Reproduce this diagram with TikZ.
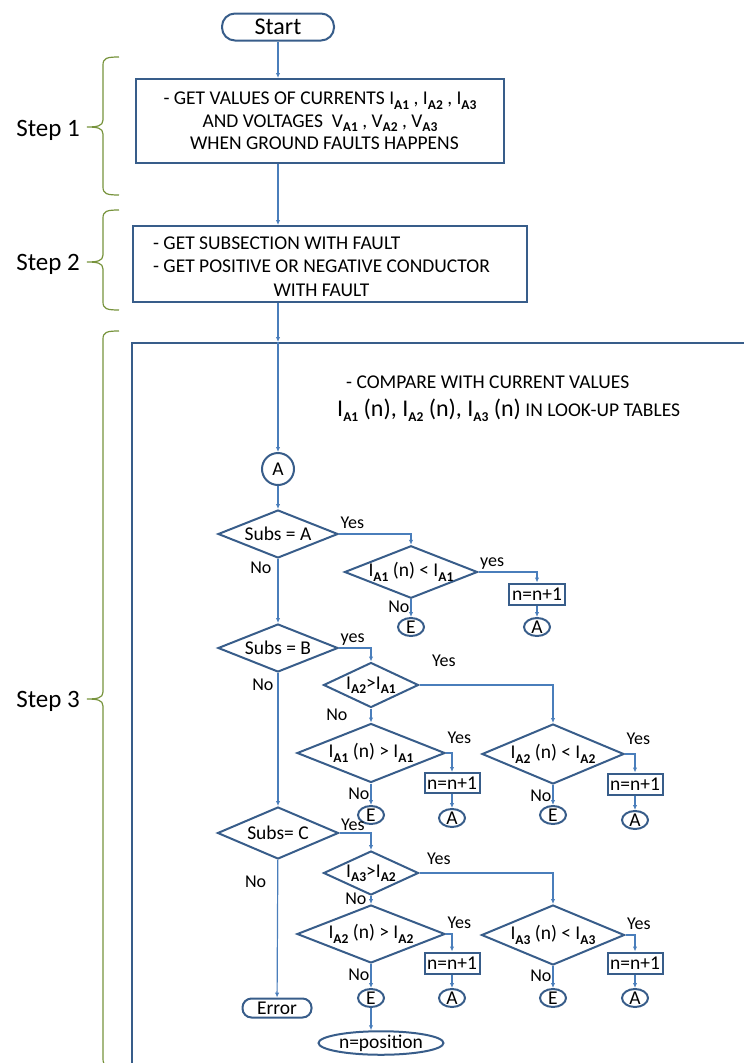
\documentclass[tikz,border=0pt]{standalone}
\usepackage{fontspec}
\setmainfont{Carlito}
\usetikzlibrary{arrows.meta,positioning,shapes.geometric}
\definecolor{shapeblue}{RGB}{56,93,138}
\definecolor{linkblue}{RGB}{74,126,187}
\definecolor{braceolive}{RGB}{119,147,60}
\newcommand{\ia}[1]{I\raisebox{-.22em}{\fontsize{13.5}{13.5}\selectfont\bfseries A#1}}
\newcommand{\va}[1]{V\raisebox{-.22em}{\fontsize{13.5}{13.5}\selectfont\bfseries A#1}}
\newcommand{\stepbrace}[3]{%
  \draw[brc] (119,#1) .. controls (107,#1) and (103,#1+1) .. (103,#1+8)
    -- (103,#2-7) .. controls (103,#2-1) and (97,#2) .. (87,#2)
    .. controls (97,#2) and (103,#2+1) .. (103,#2+7)
    -- (103,#3-8) .. controls (103,#3-1) and (107,#3) .. (119,#3);}

\begin{document}
\begin{tikzpicture}[x=1pt,y=-1pt,>={Latex[length=5pt,width=4.5pt]},
  font=\fontsize{19.5}{22.5}\selectfont,
  blk/.style={draw=shapeblue,line width=2pt,inner sep=0pt},
  dec/.style={blk,diamond,aspect=2.5},
  conn/.style={blk,ellipse,minimum width=26pt,minimum height=18pt},
  upd/.style={blk,minimum width=56pt,minimum height=21pt},
  flow/.style={->,draw=linkblue,line width=1.2pt},
  lbl/.style={font=\fontsize{18}{18}\selectfont,inner sep=1pt,text height=12pt,text depth=4pt},
  yes/.style={lbl,pos=0,anchor=south west},
  brc/.style={draw=braceolive,line width=1.2pt},
  steptext/.style={font=\fontsize{25}{25}\selectfont,inner sep=0pt,anchor=east}]
  \useasboundingbox (0,0) rectangle (744,1063);
  \clip (0,0) rectangle (744,1063);
  \stepbrace{57}{127}{195}
  \stepbrace{210}{262}{310}
  \stepbrace{331}{699}{1067}
  \node[steptext] (s1) at (80,130) {Step 1};
  \node[steptext] (s2) at (80,264) {Step 2};
  \node[steptext] (s3) at (80,701) {Step 3};
  \node[blk,anchor=north west,minimum width=700pt,minimum height=800pt] (sbox) at (131,342) {};
  \node[blk,rounded corners=13pt,minimum width=112pt,minimum height=27pt,font=\fontsize{24}{24}\selectfont] (start) at (278,27) {Start};
  \node[blk,minimum width=368pt,minimum height=84pt,align=center] (box1) at (320,121) {- GET VALUES OF CURRENTS \ia1 , \ia2 , \ia3\\
  AND VOLTAGES\ \ \va1 , \va2 , \va3\\
  \ \ WHEN GROUND FAULTS HAPPENS};
  \node[blk,minimum width=394pt,minimum height=76pt,font=\fontsize{19.5}{23.5}\selectfont] (box2) at (330,264) {\raisebox{-4pt}[\height][\depth]{\begin{tabular}{@{}l@{}}- GET SUBSECTION WITH FAULT\\
  - GET POSITIVE OR NEGATIVE CONDUCTOR\\
  \multicolumn{1}{@{}c@{}}{WITH FAULT}\end{tabular}}\hspace*{17pt}};
  \coordinate (in3) at (sbox.north -| start);
  \node[anchor=north west,align=left,inner sep=0pt] (cmp) at (337,376) {\hspace*{9pt}- COMPARE WITH CURRENT VALUES\\[5pt]
  {\fontsize{24}{26}\selectfont\ia1 (n), \ia2 (n), \ia3 (n)} IN LOOK-UP TABLES};
  \node[blk,circle,minimum size=32pt] (a0) at (278,469) {A};
  \node[dec,minimum width=120pt,minimum height=48pt] (d1) at (278,534) {Subs = A};
  \node[dec,minimum width=133pt,minimum height=51pt] (d2) at (411,572) {\ia1 (n) < \ia1};
  \node[conn] (e1) at (411,627) {E};
  \node[upd] (p1) at (537,594) {n=n+1};
  \node[conn] (a1) at (537,627) {A};
  \node[dec,minimum width=120pt,minimum height=48pt] (d4) at (278,648) {Subs = B};
  \node[dec,minimum width=95pt,minimum height=45pt] (d5) at (371,685) {\ia2>\ia1};
  \node[dec,minimum width=148pt,minimum height=59pt] (d6) at (371,753) {\ia1 (n) > \ia1};
  \node[upd,minimum width=55pt,minimum height=20pt] (p2) at (452,783) {n=n+1};
  \node[conn] (a2) at (452,818) {A};
  \node[conn] (e2) at (371,815) {E};
  \node[dec,minimum width=142pt,minimum height=60pt] (d7) at (553,754) {\ia2 (n) < \ia2};
  \node[upd,minimum width=55pt] (p3) at (635,784) {n=n+1};
  \node[conn] (a3) at (635,820) {A};
  \node[conn] (e3) at (553,815) {E};
  \node[dec,minimum width=121pt,minimum height=52pt] (d10) at (278,833) {Subs= C};
  \node[blk,rounded corners=9pt,minimum width=69pt,minimum height=19pt] (err) at (277,1008) {Error};
  \node[dec,minimum width=95pt,minimum height=44pt] (d11) at (371,873) {\ia3>\ia2};
  \node[dec,minimum width=148pt,minimum height=58pt] (d12) at (371,934) {\ia2 (n) > \ia2};
  \node[upd,minimum width=55pt] (p4) at (452,963) {n=n+1};
  \node[conn] (a4) at (452,998) {A};
  \node[conn] (e4) at (371,998) {E};
  \node[blk,ellipse,minimum width=125pt,minimum height=23pt] (fin) at (381,1043) {n=position};
  \node[dec,minimum width=143pt,minimum height=60pt] (d13) at (553,935) {\ia3 (n) < \ia3};
  \node[upd,minimum width=55pt] (p5) at (635,963) {n=n+1};
  \node[conn] (a5) at (635,998) {A};
  \node[conn] (e5) at (553,998) {E};
  \draw[flow] (start) -- (start |- box1.north);
  \draw[flow] (box1.south -| start) -- (box2.north -| start);
  \draw[flow] (box2.south -| start) -- (in3);
  \draw[flow] (in3) -- (a0);
  \draw[flow] (a0) -- (d1);
  \draw[flow] (d1) -- node[lbl,pos=0.17,left=5pt] {No} (d4);
  \draw[flow] (d1.east) -| node[yes] {Yes} (d2.north);
  \draw[flow] (d2) -- node[lbl,pos=0.5,left] {No} (e1);
  \draw[flow] (d2.east) -| node[yes] {yes} (p1.north);
  \draw[flow] (p1) -- (a1);
  \draw[flow] (d4) -- node[lbl,pos=0.1,left=3pt] {No} (d10);
  \draw[flow] (d4.east) -| node[yes] {yes} (d5.north);
  \draw[flow] (d5) -- node[lbl,pos=0.6,left=22pt] {No} (d6);
  \draw[flow] (d5.east) -| node[yes,xshift=11pt,yshift=13pt] {Yes} (d7.north);
  \draw[flow] (d6) -- node[lbl,pos=0.55,left] {No} (e2);
  \draw[flow] (d6.east) -| node[yes,yshift=4pt] {Yes} (p2.north);
  \draw[flow] (p2) -- (a2);
  \draw[flow] (d7) -- node[lbl,pos=0.6,left] {No} (e3);
  \draw[flow] (d7.east) -| node[yes,yshift=4pt] {Yes} (p3.north);
  \draw[flow] (p3) -- (a3);
  \draw[flow] (d10) -- node[lbl,pos=0.17,left=10pt] {No} (err);
  \draw[flow] (d10.east) -| node[yes,yshift=-3pt] {Yes} (d11.north);
  \draw[flow] (d11) -- node[lbl,pos=0.6,left=3pt] {No} (d12);
  \draw[flow] (d11.east) -| node[yes,xshift=6pt,yshift=3pt] {Yes} (d13.north);
  \draw[flow] (d12) -- node[lbl,pos=0.54,left] {No} (e4);
  \draw[flow] (d12.east) -| node[yes] {Yes} (p4.north);
  \draw[flow] (p4) -- (a4);
  \draw[flow] (e4) -- (e4 |- fin.north);
  \draw[flow] (d13) -- node[lbl,pos=0.54,left] {No} (e5);
  \draw[flow] (d13.east) -| node[yes] {Yes} (p5.north);
  \draw[flow] (p5) -- (a5);
\end{tikzpicture}
\end{document}
